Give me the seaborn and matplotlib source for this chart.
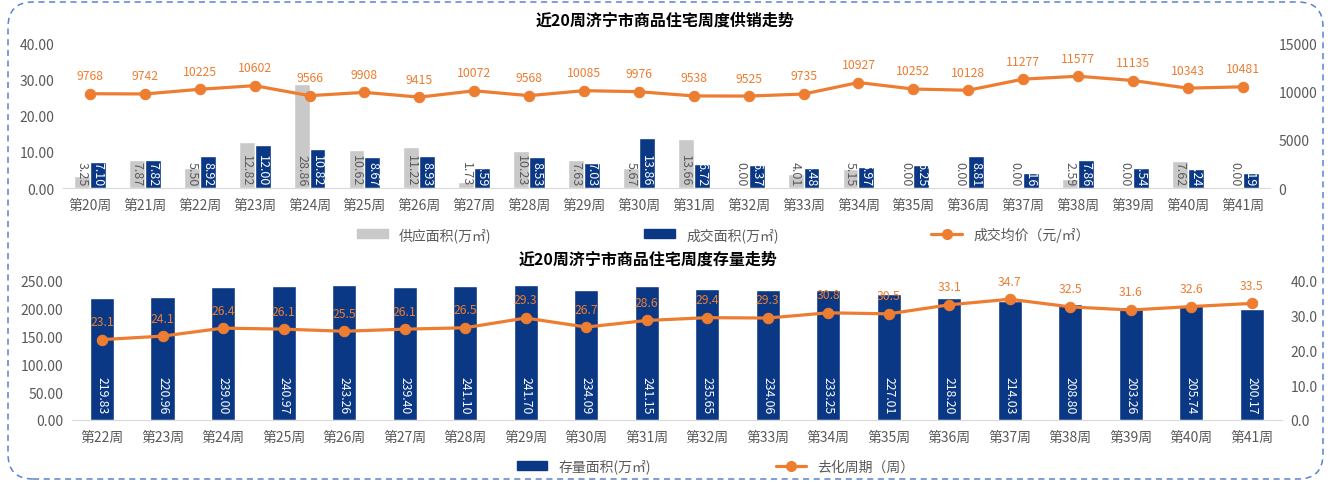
import numpy as np
import pandas as pd
import matplotlib
matplotlib.use("Agg")
import matplotlib.pyplot as plt
import seaborn as sns
from matplotlib.patches import Patch, FancyBboxPatch
from matplotlib.lines import Line2D

# 数据：供销走势（第20-41周）
weeks_top = [f"第{w}周" for w in range(20, 42)]
supply = [3.25, 7.87, 5.50, 12.82, 28.86, 10.62, 11.22, 1.73, 10.23, 7.63, 5.67,
          13.66, 0.00, 4.01, 5.15, 0.00, 0.00, 0.00, 2.59, 0.00, 7.62, 0.00]
deal = [7.10, 7.82, 8.92, 12.00, 10.82, 8.67, 8.93, 5.59, 8.53, 7.03, 13.86,
        6.72, 6.37, 5.48, 5.97, 6.25, 8.81, 4.16, 7.86, 5.54, 5.24, 4.19]
price = [9768, 9742, 10225, 10602, 9566, 9908, 9415, 10072, 9568, 10085, 9976,
         9538, 9525, 9735, 10927, 10252, 10128, 11277, 11577, 11135, 10343, 10481]

# 数据：存量走势（第22-41周）
weeks_bot = [f"第{w}周" for w in range(22, 42)]
stock = [219.83, 220.96, 239.00, 240.97, 243.26, 239.40, 241.10, 241.70, 234.09, 241.15,
         235.65, 234.06, 233.25, 227.01, 218.20, 214.03, 208.80, 203.26, 205.74, 200.17]
cycle = [23.1, 24.1, 26.4, 26.1, 25.5, 26.1, 26.5, 29.3, 26.7, 28.6,
         29.4, 29.3, 30.8, 30.5, 33.1, 34.7, 32.5, 31.6, 32.6, 33.5]

GRAY = "#C9C9C9"
BLUE = "#0A3885"
ORANGE = "#ED7D31"
TXT = "#595959"

sns.set_style("white")
plt.rcParams["font.family"] = ["Noto Sans CJK SC", "DejaVu Sans"]

fig = plt.figure(figsize=(13.3, 4.85), dpi=100)

# ---------- 上图 ----------
ax1 = fig.add_axes([0.047, 0.610, 0.908, 0.299])
df_top = pd.DataFrame({
    "周": weeks_top * 2,
    "面积": supply + deal,
    "类别": ["供应面积(万㎡)"] * len(weeks_top) + ["成交面积(万㎡)"] * len(weeks_top),
})
sns.barplot(data=df_top, x="周", y="面积", hue="类别", ax=ax1, width=0.58,
            palette={"供应面积(万㎡)": GRAY, "成交面积(万㎡)": BLUE},
            legend=False, saturation=1)
ax1.set_ylim(0, 40)
ax1.set_yticks(np.arange(0, 41, 10))
ax1.set_yticklabels([f"{v:.2f}" for v in np.arange(0, 41, 10)])
ax1.set_xlabel("")
ax1.set_ylabel("")

for cont, vals, col in zip(ax1.containers, [supply, deal], [TXT, "white"]):
    for bar, v in zip(cont, vals):
        ax1.annotate(f"{v:.2f}", (bar.get_x() + bar.get_width() / 2, 0),
                     xytext=(0, 2), textcoords="offset points", rotation=270,
                     ha="center", va="bottom", fontsize=9, color=col)

ax1b = ax1.twinx()
sns.lineplot(x=np.arange(len(price)), y=price, ax=ax1b, color=ORANGE, lw=2.3,
             marker="o", markersize=7.5, markeredgecolor=ORANGE)
ax1b.set_ylim(0, 15000)
ax1b.set_yticks([0, 5000, 10000, 15000])
ax1b.set_xlim(-0.5, len(price) - 0.5)
for i, v in enumerate(price):
    ax1b.annotate(f"{v}", (i, v), xytext=(0, 13), textcoords="offset points",
                  ha="center", va="center", fontsize=8.8, color=ORANGE)

# ---------- 下图 ----------
ax2 = fig.add_axes([0.054, 0.132, 0.910, 0.287])
sns.barplot(x=weeks_bot, y=stock, ax=ax2, color=BLUE, width=0.4, saturation=1)
ax2.set_ylim(0, 250)
ax2.set_yticks(np.arange(0, 251, 50))
ax2.set_yticklabels([f"{v:.2f}" for v in np.arange(0, 251, 50)])
for bar, v in zip(ax2.containers[0], stock):
    ax2.annotate(f"{v:.2f}", (bar.get_x() + bar.get_width() / 2, 0),
                 xytext=(0, 5), textcoords="offset points", rotation=270,
                 ha="center", va="bottom", fontsize=8.8, color="white")

ax2b = ax2.twinx()
sns.lineplot(x=np.arange(len(cycle)), y=cycle, ax=ax2b, color=ORANGE, lw=2.3,
             marker="o", markersize=7.5, markeredgecolor=ORANGE)
ax2b.set_ylim(0, 40)
ax2b.set_yticks(np.arange(0, 41, 10))
ax2b.set_yticklabels([f"{v:.1f}" for v in np.arange(0, 41, 10)])
ax2b.set_xlim(-0.5, len(cycle) - 0.5)
for i, v in enumerate(cycle):
    ax2b.annotate(f"{v}", (i, v), xytext=(0, 13), textcoords="offset points",
                  ha="center", va="center", fontsize=8.8, color=ORANGE)

# 坐标轴样式
for ax in [ax1, ax1b, ax2, ax2b]:
    for s in ["top", "left", "right"]:
        ax.spines[s].set_visible(False)
    ax.spines["bottom"].set_color("#D9D9D9")
    ax.tick_params(length=0, labelsize=10, labelcolor=TXT)
    ax.set_ylabel("")
    ax.grid(False)
for ax in [ax1, ax2]:
    ax.tick_params(axis="x", pad=7)
    ax.tick_params(axis="y", pad=6)
for ax in [ax1b, ax2b]:
    ax.tick_params(axis="y", pad=6)
    ax.spines["bottom"].set_visible(False)

# 标题
fig.text(0.5, 0.958, "近20周济宁市商品住宅周度供销走势", ha="center", va="center",
         fontsize=11.5, fontweight="bold", color="black")
fig.text(0.487, 0.464, "近20周济宁市商品住宅周度存量走势", ha="center", va="center",
         fontsize=11.5, fontweight="bold", color="black")

# 图例
h_top = [Patch(color=GRAY, label="供应面积(万㎡)"),
         Patch(color=BLUE, label="成交面积(万㎡)"),
         Line2D([], [], color=ORANGE, lw=2.3, marker="o", markersize=7, label="成交均价（元/㎡）")]
fig.legend(handles=h_top, loc="center", bbox_to_anchor=(0.544, 0.515), ncol=3,
           frameon=False, fontsize=10, labelcolor=TXT, columnspacing=11,
           handlelength=2.2, handleheight=0.6)
h_bot = [Patch(color=BLUE, label="存量面积(万㎡)"),
         Line2D([], [], color=ORANGE, lw=2.3, marker="o", markersize=7, label="去化周期（周）")]
fig.legend(handles=h_bot, loc="center", bbox_to_anchor=(0.538, 0.037), ncol=2,
           frameon=False, fontsize=10, labelcolor=TXT, columnspacing=9,
           handlelength=2.2, handleheight=0.6)

# 虚线圆角边框
border = FancyBboxPatch((8, 5), 1315, 477, boxstyle="round,pad=0,rounding_size=25",
                        transform=None, fill=False, edgecolor="#5B83D0",
                        linestyle=(0, (4, 3)), linewidth=1.1)
fig.patches.append(border)

fig.savefig("out.png", dpi=100)
